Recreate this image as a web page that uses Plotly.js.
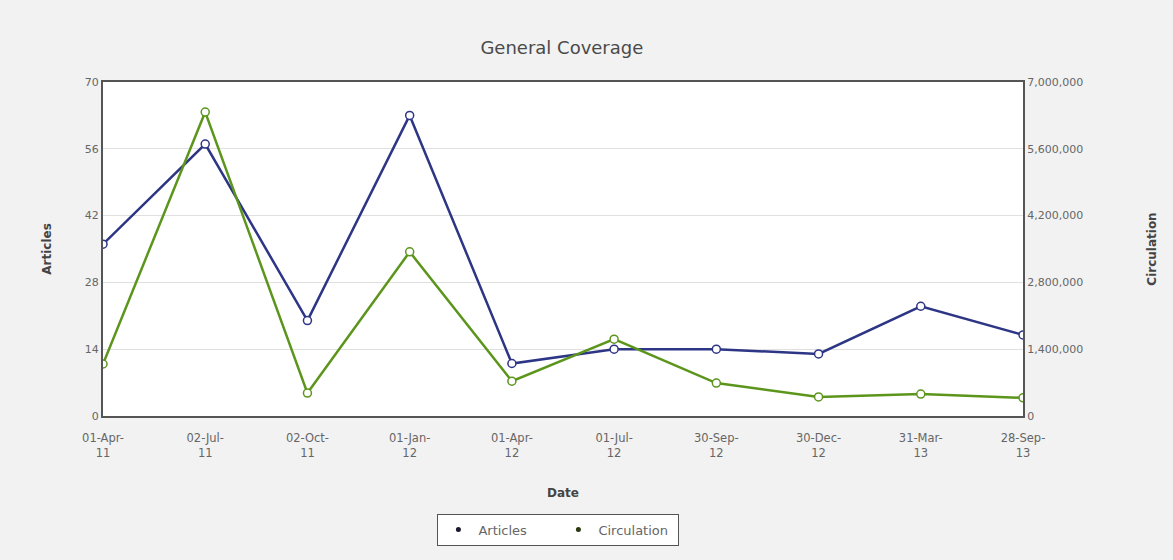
<!DOCTYPE html>
<html>
<head>
<meta charset="utf-8">
<script src="https://cdn.plot.ly/plotly-3.0.1.min.js"></script>
<style>html,body{margin:0;padding:0;background:#f0f0f0;}#chart{width:1173px;height:560px;}</style>
</head>
<body>
<div id="chart"></div>
<script>
const dates = ["01-Apr-<br>11","02-Jul-<br>11","02-Oct-<br>11","01-Jan-<br>12","01-Apr-<br>12","01-Jul-<br>12","30-Sep-<br>12","30-Dec-<br>12","31-Mar-<br>13","28-Sep-<br>13"];
const articles = [36, 57, 20, 63, 11, 14, 14, 13, 23, 17];
const circulation = [1090000, 6370000, 480000, 3440000, 730000, 1610000, 690000, 400000, 460000, 380000];
const articleTicks = [0, 14, 28, 42, 56, 70];
const circulationTicks = [0, 1400000, 2800000, 4200000, 5600000, 7000000];

const font = "DejaVu Sans, Verdana, sans-serif";
const blue = "#2d3585";
const green = "#5c951c";

const traces = [
  {x: dates, y: articles, name: "Articles", type: "scatter", mode: "lines+markers",
   line: {color: blue, width: 2.5}, marker: {symbol: "circle", size: 8, color: "#ffffff", line: {color: blue, width: 1.5}},
   showlegend: false, yaxis: "y"},
  {x: dates, y: circulation, name: "Circulation", type: "scatter", mode: "lines+markers",
   line: {color: green, width: 2.5}, marker: {symbol: "circle", size: 8, color: "#ffffff", line: {color: green, width: 1.5}},
   showlegend: false, yaxis: "y2"},
  {x: [null], y: [null], name: "Articles", type: "scatter", mode: "markers",
   marker: {size: 5, color: "#1a1a2e"}, showlegend: true},
  {x: [null], y: [null], name: "Circulation", type: "scatter", mode: "markers",
   marker: {size: 5, color: "#2a3a10"}, showlegend: true}
];

const layout = {
  width: 1173, height: 560,
  margin: {l: 103, r: 150, t: 82, b: 144},
  paper_bgcolor: "#f2f2f2",
  plot_bgcolor: "#ffffff",
  font: {family: font, color: "#666666", size: 11},
  title: {text: "General Coverage", font: {family: font, size: 18, color: "#4a4a4a"}, x: 0.479, xanchor: "center", y: 0.915, yanchor: "middle"},
  xaxis: {
    type: "category", range: [0, 9], showgrid: false, zeroline: false,
    showline: true, linecolor: "#555555", linewidth: 2, mirror: true,
    ticks: "", ticklabelstandoff: 10, tickfont: {family: font, size: 11.5, color: "#666666"},
    title: {text: "Date", font: {family: font, size: 12, color: "#444444", weight: "bold"}, standoff: 30}
  },
  yaxis: {
    range: [0, 70], tickvals: articleTicks, ticktext: articleTicks.map(String),
    showgrid: true, gridcolor: "#e0e0e0", zeroline: false,
    showline: true, linecolor: "#555555", linewidth: 2,
    ticks: "", tickfont: {family: font, size: 11, color: "#666666"},
    title: {text: "Articles", font: {family: font, size: 12, color: "#444444", weight: "bold"}, standoff: 31}
  },
  yaxis2: {
    range: [0, 7000000], tickvals: circulationTicks, tickformat: ",d",
    overlaying: "y", side: "right", showgrid: false, zeroline: false,
    showline: true, linecolor: "#555555", linewidth: 2,
    ticks: "", tickfont: {family: font, size: 11, color: "#666666"},
    title: {text: "Circulation", font: {family: font, size: 12, color: "#444444", weight: "bold"}, standoff: 65}
  },
  legend: {
    orientation: "h", x: 0.495, xanchor: "center", y: -0.34, yanchor: "middle",
    bgcolor: "#ffffff", bordercolor: "#555555", borderwidth: 1,
    font: {family: font, size: 13, color: "#666666"}, itemwidth: 30,
    entrywidth: 75, entrywidthmode: "pixels"
  }
};

Plotly.newPlot("chart", traces, layout, {displayModeBar: false});
</script>
</body>
</html>
